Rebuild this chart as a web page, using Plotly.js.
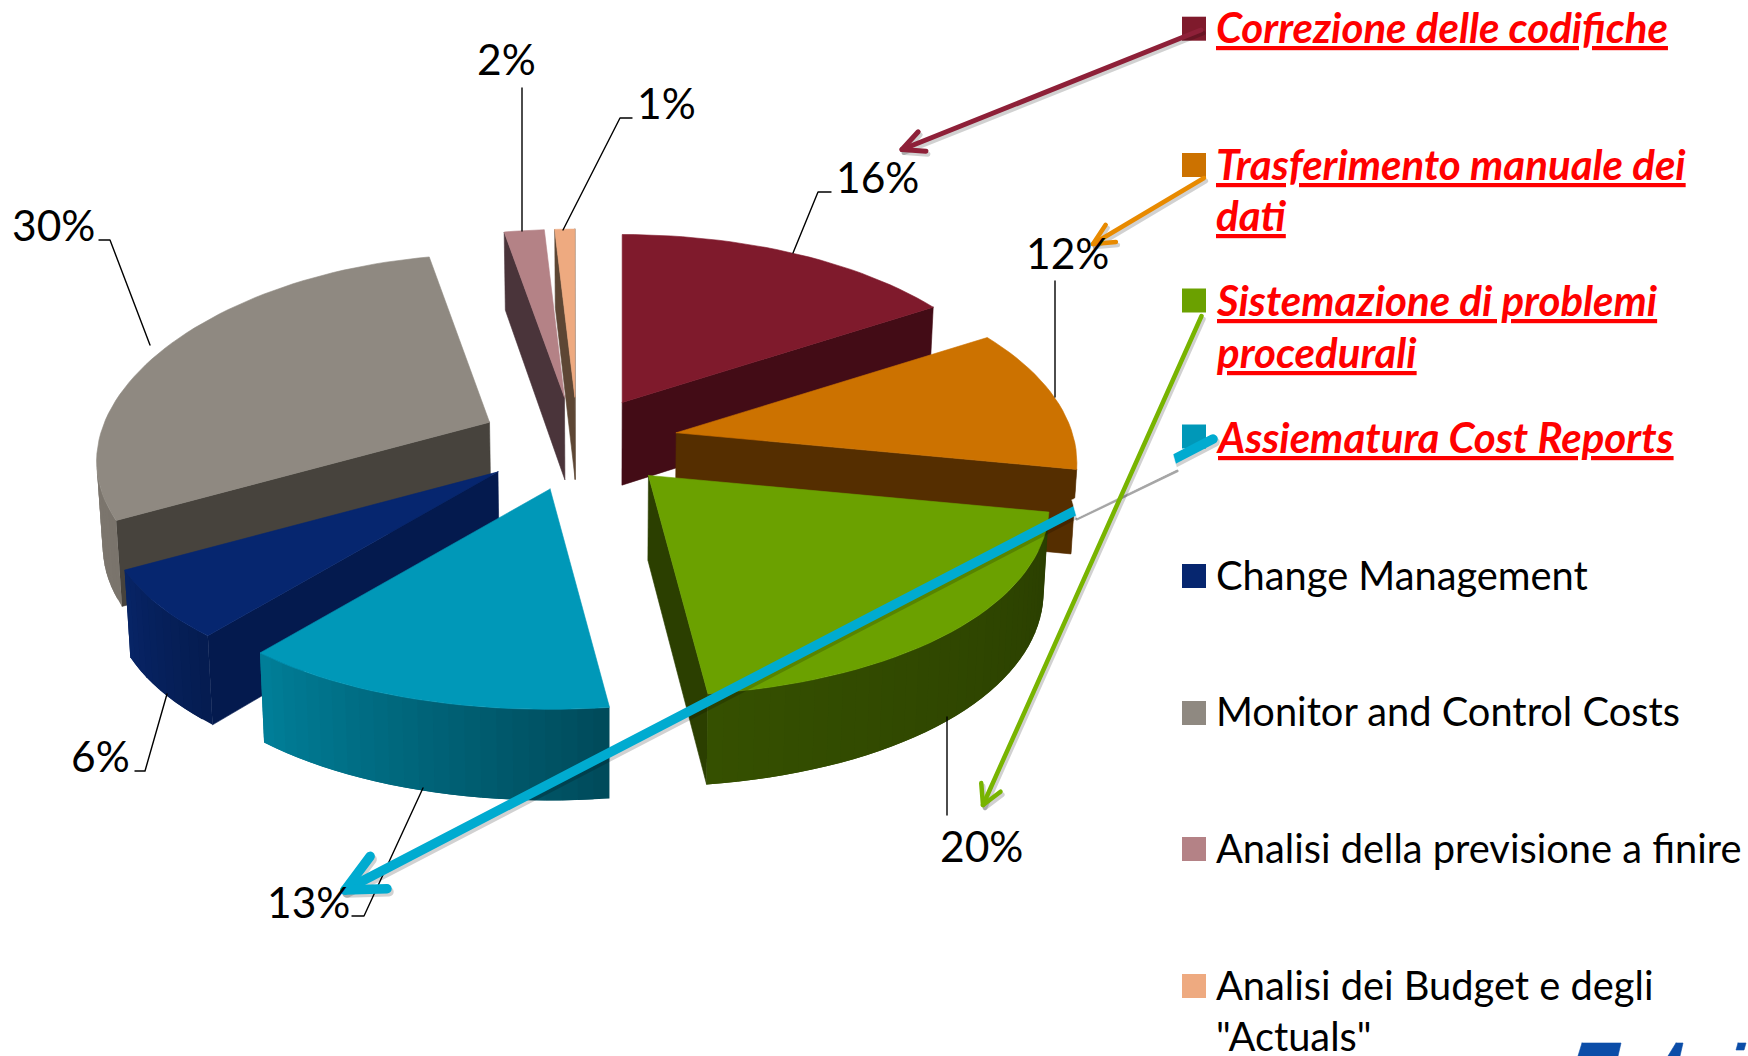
<!DOCTYPE html>
<html><head><meta charset="utf-8">
<script src="https://cdn.plot.ly/plotly-3.0.1.min.js"></script>
<style>html,body{margin:0;padding:0;background:#fff;overflow:hidden}</style></head>
<body><div id="chart" style="width:1748px;height:1056px"></div>
<script>
const categories = ["Correzione delle codifiche","Trasferimento manuale dei dati","Sistemazione di problemi procedurali","Assiematura Cost Reports","Change Management","Monitor and Control Costs","Analisi della previsione a finire","Analisi dei Budget e degli \"Actuals\""];
const values = [16,12,20,13,6,30,2,1];
const topColors = ["#7F1A2C","#CC7200","#6BA100","#0098B8","#06266F","#8F8981","#B48286","#EEAA80"];
const wallColors = ["#430C16","#552E00","#2B3F00","#004F60","#041A4E","#47433D","#4A343A","#5D4634"];
const rimRight = ["#430C16","#552E00","#2A3E00","#004A5A","#051C50","#7A746C","#4A343A","#5D4634"];
const rimLeft = ["#430C16","#552E00","#355000","#007F99","#072466","#8A847C","#4A343A","#5D4634"];
const legendLines = [["Correzione delle codifiche"],["Trasferimento manuale dei","dati"],["Sistemazione di problemi","procedurali"],["Assiematura Cost Reports"],["Change Management"],["Monitor and Control Costs"],["Analisi della previsione a finire"],["Analisi dei Budget e degli","\"Actuals\""]];
const drawOrder = [7,6,5,0,1,4,3,2];

// projection of the exploded pie
const C=[578,441], AL=385, AR=396, SK=20, B0=190.6, pX=0.2, pY=0.135, EX=100, EYback=44, EYfront=50;
const nudge=[[-4,0],[0,0],[2,-2],[0,0],[-3,-1],[2,0],[-1,0],[0,0]];
const rad=d=>d*Math.PI/180;
function rim(th){const u=Math.sin(rad(th)),v=Math.cos(rad(th));
  const x=u>0?AR*u/(1+pX*v)+SK*u*v:AL*u/(1+pX*v);
  return [x,-B0*v/(1+pY*v)];}
function depth(p){const d=78+0.0273*(p[1]-230);return [601+(p[0]-601)*0.988,p[1]+d];}
function hex(a,b,t){const f=(c,i)=>parseInt(c.substr(1+2*i,2),16);let s='#';for(let i=0;i<3;i++){s+=Math.round(f(a,i)+(f(b,i)-f(a,i))*t).toString(16).padStart(2,'0');}return s;}
function poly(pts,color,w){
  const x=pts.map(p=>p[0]).concat(pts[0][0]),y=pts.map(p=>p[1]).concat(pts[0][1]);
  return {type:'scatter',mode:'lines',x,y,fill:'toself',fillcolor:color,line:{color,width:w===undefined?0.6:w},hoverinfo:'skip',showlegend:false};
}
const total=values.reduce((a,b)=>a+b,0);
const starts=[];let acc=0;values.forEach(v=>{starts.push(acc);acc+=v/total*360;});
const traces=[];
drawOrder.forEach(i=>{
  const s=starts[i],e=s+values[i]/total*360,m=(s+e)/2;
  const cm=Math.cos(rad(m));
  const apex=[C[0]+EX*Math.sin(rad(m))+nudge[i][0],C[1]-(cm>0?EYback:EYfront)*cm+nudge[i][1]];
  const n=Math.max(4,Math.ceil((e-s)/2));
  const arc=[];for(let k=0;k<=n;k++){const r=rim(s+(e-s)*k/n);arc.push([apex[0]+r[0],apex[1]+r[1]]);}
  const face=(P,Q,c)=>{if(Q[0]<P[0])traces.push(poly([P,Q,depth(Q),depth(P)],c));};
  face(apex,arc[0],wallColors[i]);
  face(arc[n],apex,wallColors[i]);
  for(let k=0;k<n;k++){
    if(arc[k+1][0]<arc[k][0]){
      const Q=(k+2<=n&&arc[k+2][0]<arc[k+1][0])?arc[k+2]:arc[k+1];
      traces.push(poly([arc[k],Q,depth(Q),depth(arc[k])],hex(rimRight[i],rimLeft[i],(k+.5)/n),0));
    }
  }
  traces.push(poly([apex].concat(arc),topColors[i]));
});

function seg(pts,color,width){return {type:'scatter',mode:'lines',x:pts.map(p=>p[0]),y:pts.map(p=>p[1]),line:{color,width},hoverinfo:'skip',showlegend:false};}
// leader lines
const leaders=[[[99,240],[110,240],[150,345]],[[522,88],[522,231]],[[632,118],[620,118],[563,230]],[[831,192],[818,192],[793,253]],[[1055,281],[1055,397]],[[947,717],[947,815]],[[423,788],[364,916],[352,916]],[[167,694],[145,771],[135,771]]];
leaders.forEach(l=>traces.push(seg(l,'#000',1.4)));

function barbs(from,tip,len,ang){
  const a=Math.atan2(from[1]-tip[1],from[0]-tip[0]);
  return [[tip[0]+len*Math.cos(a+ang),tip[1]+len*Math.sin(a+ang)],tip,[tip[0]+len*Math.cos(a-ang),tip[1]+len*Math.sin(a-ang)]];
}
function arrow(from,tip,color,width,len,ang){
  const off=p=>[p[0]+2,p[1]+3], b=barbs(from,tip,len,ang);
  traces.push(seg([from,tip].map(off),'rgba(0,0,0,0.18)',width));
  traces.push(seg(b.map(off),'rgba(0,0,0,0.18)',width));
  traces.push(seg([from,tip],color,width));
  traces.push(seg(b,color,width));
}
arrow([1201,30],[902,149.5],'#8E2038',5,24,0.45);
arrow([1204,178],[1093,244],'#E88A00',4.5,23,0.45);
// teal arrow with its white break
arrow([1213,439],[345,890],'#00ABD0',9.5,42,0.45);
traces.push(seg([[1077,519],[1177,471]],'rgba(0,0,0,0.35)',3));
traces.push(poly([[1072,500],[1171,447],[1177,469],[1077,518]],'#FFFFFF'));
arrow([1201.5,316],[983,805],'#78B400',4.5,22,0.5);
// cropped logo at the bottom edge
const logoBlue='#0B4DA8';
traces.push(poly([[1582,1043],[1621,1043],[1618,1056],[1578,1056]],logoBlue));
traces.push(poly([[1676,1043],[1683,1043],[1680,1056],[1668,1056]],logoBlue));
traces.push(poly([[1738,1043],[1746,1043],[1744,1050],[1736,1050]],logoBlue));

const ann=[];
const base={xref:'x',yref:'y',showarrow:false,xanchor:'left',yanchor:'middle'};
const pct=[[877,192],[1067,268],[981,861],[308,917],[100,771],[53,240],[506,74],[666,118]];
values.forEach((v,i)=>{ann.push({xref:'x',yref:'y',showarrow:false,x:pct[i][0],y:pct[i][1]-16,xanchor:'center',yanchor:'middle',text:v+'%',font:{family:'Lato',size:42.5,color:'#000'}});});
const swatchY=[28.7,165,300.5,436.5,576,713,849,986];
const lineY=[[40],[177,228],[313,365],[450],[588],[724],[861],[998,1049]];
const shapes=[];
categories.forEach((c,i)=>{
  shapes.push({type:'rect',xref:'x',yref:'y',x0:1182,x1:1206,y0:swatchY[i]-12,y1:swatchY[i]+12,fillcolor:topColors[i],line:{width:0},layer:'below'});
  legendLines[i].forEach((t,k)=>{
    const hot=i<4;
    ann.push(Object.assign({},base,{x:1214,y:lineY[i][k]-(hot?13:14),text:hot?'<b><i>'+t+'</i></b>':t,
      font:hot?{family:'Lato',size:42,color:'#FF0000',lineposition:'under'}:{family:'Lato',size:39.8,color:'#000'}}));
  });
});
Plotly.newPlot('chart',traces,{width:1748,height:1056,margin:{l:0,r:0,t:0,b:0},paper_bgcolor:'#fff',plot_bgcolor:'#fff',showlegend:false,
  xaxis:{range:[0,1748],visible:false,fixedrange:true},yaxis:{range:[1056,0],visible:false,fixedrange:true},shapes,annotations:ann},{displayModeBar:false,staticPlot:true}).then(()=>{
  document.querySelectorAll('.js-line').forEach(l=>{l.style.strokeLinecap='round';l.style.strokeLinejoin='round';});
});
</script></body></html>
